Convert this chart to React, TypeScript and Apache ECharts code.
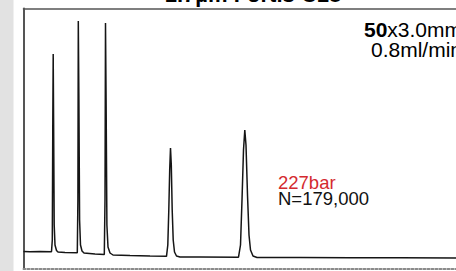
import React, { useEffect, useRef } from "react";
import * as echarts from "echarts";

// Chromatogram trace: retention time (arbitrary units) and detector signal
const timeValues = [
  0, 6.5, 16.5, 28, 28.8, 29.3, 29.7, 30.1, 30.7, 31.5, 33, 34.5, 41.5,
  53.8, 54.4, 54.8, 55.4, 56.1, 57, 58.5, 60.5, 71.5,
  80.8, 81.5, 82, 82.6, 83.4, 84.5, 86.5, 89.5, 106.5, 126.5,
  143, 144.3, 145.3, 146.2, 147, 147.8, 148.7, 149.7, 151, 153, 156.5, 176.5,
  215, 217, 218.5, 220, 221.3, 222.5, 224, 225.5, 227, 229.5, 233.5,
  276.5, 326.5, 376.5, 432.5,
];
const signalValues = [
  17.5, 17.3, 17.4, 17.2, 29, 149, 215, 149, 44, 24, 18.5, 17, 16.5,
  16.3, 69, 248, 169, 49, 24, 18, 16, 15,
  14.4, 69, 246, 169, 44, 22, 16, 14, 13.5, 13,
  12.7, 24, 59, 99, 121, 104, 59, 29, 17, 13, 12, 12,
  11.8, 24, 69, 119, 139, 124, 74, 34, 19, 13, 11.5,
  11.5, 11.2, 11.2, 11,
];

const titleText = "1.7µm Fortis C18";
const columnLines = ["{b|50}x3.0mm", "0.8ml/min"];
const conditionLines = ["{r|227bar}", "N=179,000"];

const FONT = "'Liberation Sans', Arial, Helvetica, sans-serif";

export default function App() {
  const ref = useRef<HTMLDivElement>(null);
  useEffect(() => {
    if (!ref.current) return;
    const chart = echarts.init(ref.current, null, { renderer: "svg" });
    const data = timeValues.map((t, i) => [t, signalValues[i]]);
    chart.setOption({
      animation: false,
      backgroundColor: "#ffffff",
      grid: { left: 23.5, right: 0, top: 8.5, bottom: 2, containLabel: false },
      xAxis: [
        {
          type: "value",
          min: 0,
          max: 432.5,
          position: "bottom",
          axisLine: { show: true, lineStyle: { color: "#8a8a8a", width: 2, type: [2, 2] } },
          axisTick: { show: false },
          axisLabel: { show: false },
          splitLine: { show: false },
        },
        {
          type: "value",
          min: 0,
          max: 432.5,
          position: "top",
          axisLine: { show: true, lineStyle: { color: "#555555", width: 1.5 } },
          axisTick: { show: false },
          axisLabel: { show: false },
          splitLine: { show: false },
        },
      ],
      yAxis: {
        type: "value",
        min: 0,
        max: 260.5,
        axisLine: { show: true, lineStyle: { color: "#555555", width: 2 } },
        axisTick: { show: false },
        axisLabel: { show: false },
        splitLine: { show: false },
      },
      series: [
        {
          type: "line",
          data,
          xAxisIndex: 0,
          showSymbol: false,
          symbol: "none",
          lineStyle: { color: "#151515", width: 1.5 },
          clip: true,
        },
      ],
      graphic: [
        {
          type: "rect",
          shape: { x: 0, y: 0, width: 13.5, height: 271 },
          style: { fill: "#e2e2e2" },
          silent: true,
        },
        {
          type: "text",
          x: 253,
          y: -6,
          style: {
            text: titleText,
            font: `bold 22px ${FONT}`,
            fill: "#000",
            align: "center",
            verticalAlign: "middle",
          },
        },
        {
          type: "text",
          x: 462,
          y: 39.5,
          style: {
            text: columnLines.join("\n"),
            font: `21px ${FONT}`,
            fill: "#000",
            align: "right",
            verticalAlign: "middle",
            lineHeight: 20.5,
            rich: { b: { font: `bold 21px ${FONT}`, fill: "#000", lineHeight: 20.5 } },
          },
        },
        {
          type: "text",
          x: 278,
          y: 190.5,
          style: {
            text: conditionLines.join("\n"),
            font: `18.5px ${FONT}`,
            fill: "#111",
            align: "left",
            verticalAlign: "middle",
            lineHeight: 16.5,
            rich: { r: { font: `18.5px ${FONT}`, fill: "#d42a2f", lineHeight: 16.5 } },
          },
        },
      ],
    });
    return () => chart.dispose();
  }, []);
  return (
    <div
      ref={ref}
      style={{ position: "fixed", left: 0, top: 0, width: 456, height: 271 }}
    />
  );
}
